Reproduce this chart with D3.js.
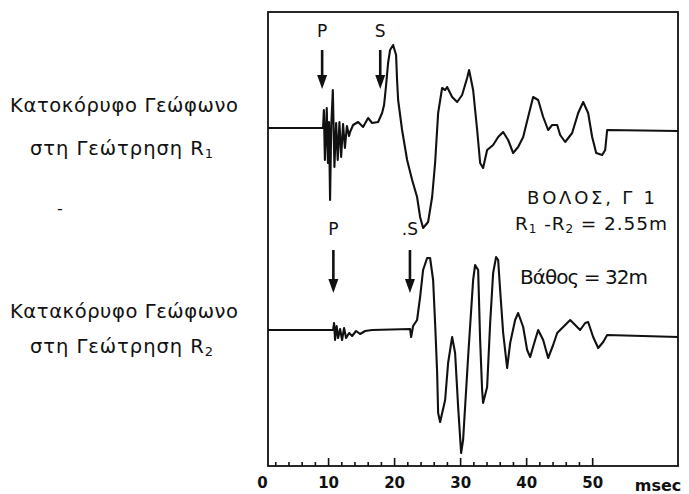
<!DOCTYPE html>
<html>
<head>
<meta charset="utf-8">
<script src="https://cdn.jsdelivr.net/npm/d3@7"></script>
<style>
  body { margin: 0; background: #fff; }
  text { font-family: "DejaVu Sans", sans-serif; fill: #111; }
</style>
</head>
<body>
<svg id="chart" width="689" height="494"></svg>
<script>
// time (ms) and amplitude (arbitrary units)
const timeR1 = [0.9, 9.24, 9.36, 9.52, 9.80, 9.98, 10.14, 10.30, 10.48, 10.72, 10.96, 11.22, 11.46, 11.72, 11.98, 12.27, 12.55, 12.85, 13.18, 13.33, 13.79, 14.55, 15.30, 16.06, 16.67, 17.58, 18.18, 18.48, 18.79, 19.09, 19.39, 19.85, 20.30, 20.45, 20.61, 21.21, 21.97, 22.73, 23.48, 23.94, 24.39, 25.15, 25.76, 26.21, 26.67, 27.27, 27.73, 28.03, 28.79, 29.55, 30.30, 31.06, 31.36, 31.97, 32.58, 33.03, 33.48, 34.09, 35.00, 35.76, 36.52, 37.27, 38.03, 38.79, 39.55, 40.30, 41.06, 41.82, 42.58, 43.33, 43.94, 44.70, 45.15, 45.91, 46.97, 47.88, 48.64, 49.39, 50.00, 50.61, 51.52, 51.97, 52.27, 63.0];
const ampR1 = [0, 0, 1.8, -3.2, 2.0, -3.5, 0.6, -7.2, 0.2, 3.8, -3.9, 0.5, -3.2, 0.6, -2.9, 0.4, -2.0, 0.2, -0.8, -0.4, 0.3, 0.6, 0.1, 1.0, 0.5, 0.6, 1.5, 2.3, 4.3, 6.5, 7.8, 8.3, 7.3, 4.8, 2.8, -0.2, -3.2, -5.2, -6.9, -8.9, -10.0, -9.4, -6.9, -3.5, 1.5, 4.0, 3.8, 4.1, 3.1, 2.6, 3.3, 5.0, 5.8, 3.8, -0.2, -3.5, -4.0, -2.2, -1.7, -0.9, -0.4, -1.2, -2.5, -1.9, -0.9, 1.1, 3.1, 2.8, 1.1, -0.2, 0.3, 0.3, -0.7, -1.4, -0.5, 1.5, 2.6, 1.5, -0.9, -2.5, -2.7, -2.2, -0.2, -0.3];

const timeR2 = [0.9, 10.76, 10.91, 11.06, 11.29, 11.52, 11.82, 12.12, 12.42, 12.73, 13.18, 13.64, 14.24, 14.85, 15.61, 16.67, 22.42, 22.58, 22.88, 23.48, 23.94, 24.39, 25.00, 25.45, 25.91, 26.21, 26.52, 26.67, 26.97, 27.73, 28.18, 28.79, 29.24, 29.70, 30.15, 30.45, 31.21, 31.97, 32.27, 32.73, 33.03, 33.33, 33.48, 34.09, 34.55, 35.00, 35.45, 35.76, 36.06, 36.52, 37.12, 37.58, 38.33, 38.79, 39.55, 40.15, 40.61, 41.36, 41.82, 42.58, 43.33, 44.09, 44.70, 45.61, 46.67, 47.42, 48.18, 48.94, 49.39, 50.15, 50.91, 51.67, 52.27, 63.0];
const ampR2 = [0.1, 0.1, 0.8, -0.9, 0.5, -0.7, 0.2, -0.9, 0.3, -0.7, -0.2, -0.5, 0, -0.3, 0, 0.1, 0.2, -0.6, 0.5, 1.1, 3.4, 6.1, 7.3, 7.3, 5.1, 0.8, -4.2, -8.2, -9.1, -6.9, -3.2, -0.6, -2.2, -7.6, -12.2, -10.9, -2.6, 5.1, 6.6, 6.1, -0.9, -5.9, -7.2, -5.6, 0.8, 5.8, 7.4, 7.1, 4.1, -0.2, -3.7, -1.2, 1.1, 1.8, 0.4, -1.9, -2.6, -0.9, 0.1, -0.9, -2.7, -1.4, -0.2, 0.4, 1.1, 0.6, 0.1, 0.8, 0.9, -0.6, -1.7, -1.1, -0.4, -0.6];

// picked arrival times (ms)
const arrivalR1 = [{ phase: "P", t: 9.1 }, { phase: "S", t: 17.9 }];
const arrivalR2 = [{ phase: "P", t: 10.8 }, { phase: ".S", t: 22.4 }];

const tickLabels = [0, 10, 20, 30, 40, 50];
const minorTicks = d3.range(2, 52, 2);

const traceLabels = [
  ["Κατοκόρυφο Γεώφωνο", "στη Γεώτρηση R", "1"],
  ["Κατακόρυφο Γεώφωνο", "στη Γεώτρηση R", "2"]
];

const frame = { left: 268, right: 678, top: 12, bottom: 466 };

const svg = d3.select("#chart");

const x = d3.scaleLinear().domain([0.9, 63]).range([frame.left, frame.right]);
const y1 = d3.scaleLinear().domain([-10, 10]).range([228, 28]);
const y2 = d3.scaleLinear().domain([-13, 10]).range([461, 231]);

// frame
svg.append("rect")
  .attr("x", frame.left).attr("y", frame.top)
  .attr("width", frame.right - frame.left)
  .attr("height", frame.bottom - frame.top)
  .attr("fill", "none").attr("stroke", "#111").attr("stroke-width", 1.8);

// time axis: small ticks pointing up from the bottom edge
const minorAxis = d3.axisBottom(x).tickValues(minorTicks).tickSize(-4).tickFormat("");
const gMinor = svg.append("g").attr("transform", `translate(0,${frame.bottom})`).call(minorAxis);
gMinor.select(".domain").remove();
gMinor.selectAll(".tick line")
  .attr("stroke", "#111").attr("stroke-width", 1.6)
  .attr("y2", d => d % 10 === 0 ? -8 : -4);

const labelAxis = d3.axisBottom(x).tickValues(tickLabels).tickSize(0).tickPadding(11);
const gLab = svg.append("g").attr("transform", `translate(0,${frame.bottom})`).call(labelAxis);
gLab.select(".domain").remove();
gLab.selectAll(".tick text")
  .attr("font-family", "DejaVu Sans Mono, monospace")
  .attr("font-size", 15).attr("font-weight", "bold").attr("fill", "#111");

svg.append("text")
  .attr("x", 658).attr("y", 491)
  .attr("text-anchor", "middle")
  .attr("font-family", "DejaVu Sans Mono, monospace")
  .attr("font-size", 16).attr("font-weight", "bold")
  .text("msec");

// traces
function drawTrace(times, amps, yScale) {
  const pts = times.map((t, i) => [t, amps[i]]);
  const line = d3.line().x(d => x(d[0])).y(d => yScale(d[1]));
  svg.append("path")
    .datum(pts)
    .attr("d", line)
    .attr("fill", "none")
    .attr("stroke", "#111")
    .attr("stroke-width", 2.1)
    .attr("stroke-linejoin", "round");
}
drawTrace(timeR1, ampR1, y1);
drawTrace(timeR2, ampR2, y2);

// arrival arrows
function drawArrows(arrivals, yScale, tailAmp, tipAmp, labelAmp) {
  const g = svg.append("g");
  arrivals.forEach(a => {
    const xx = x(a.t), tip = yScale(tipAmp), tail = yScale(tailAmp);
    g.append("line")
      .attr("x1", xx).attr("x2", xx)
      .attr("y1", tail).attr("y2", tip - 10)
      .attr("stroke", "#111").attr("stroke-width", 2.6);
    g.append("path")
      .attr("d", `M${xx - 5},${tip - 14}L${xx + 5},${tip - 14}L${xx},${tip}Z`)
      .attr("fill", "#111");
    g.append("text")
      .attr("x", xx).attr("y", yScale(labelAmp))
      .attr("text-anchor", "middle")
      .attr("font-size", 17)
      .text(a.phase);
  });
}
drawArrows(arrivalR1, y1, 7.8, 3.9, 9.1);
drawArrows(arrivalR2, y2, 8.1, 3.8, 9.6);

// left-hand labels
const labelRows = [[112, 155], [318, 353]];
traceLabels.forEach((lab, i) => {
  svg.append("text")
    .attr("x", 10).attr("y", labelRows[i][0])
    .attr("font-size", 19.5)
    .attr("textLength", 228).attr("lengthAdjust", "spacing")
    .text(lab[0]);
  const t2 = svg.append("text")
    .attr("x", 30).attr("y", labelRows[i][1])
    .attr("font-size", 19.5)
    .attr("textLength", 183).attr("lengthAdjust", "spacing");
  t2.append("tspan").text(lab[1]);
  t2.append("tspan").attr("font-size", 13).attr("dy", 3).text(lab[2]);
});

svg.append("text").attr("x", 60).attr("y", 214)
  .attr("text-anchor", "middle").attr("font-size", 16).text("-");

// site annotations
svg.append("text")
  .attr("x", 527).attr("y", 204)
  .attr("font-size", 18)
  .attr("textLength", 128).attr("lengthAdjust", "spacing")
  .text("ΒΟΛΟΣ,  Γ 1");

const rLine = svg.append("text")
  .attr("x", 515).attr("y", 230)
  .attr("font-size", 18.5)
  .attr("textLength", 152).attr("lengthAdjust", "spacing");
rLine.append("tspan").text("R");
rLine.append("tspan").attr("font-size", 12).attr("dy", 3).text("1");
rLine.append("tspan").attr("dy", -3).text(" -R");
rLine.append("tspan").attr("font-size", 12).attr("dy", 3).text("2");
rLine.append("tspan").attr("dy", -3).text(" = 2.55m");

svg.append("text")
  .attr("x", 520).attr("y", 284)
  .attr("font-size", 20)
  .attr("textLength", 128).attr("lengthAdjust", "spacing")
  .text("Βάθος = 32m");
</script>
</body>
</html>
